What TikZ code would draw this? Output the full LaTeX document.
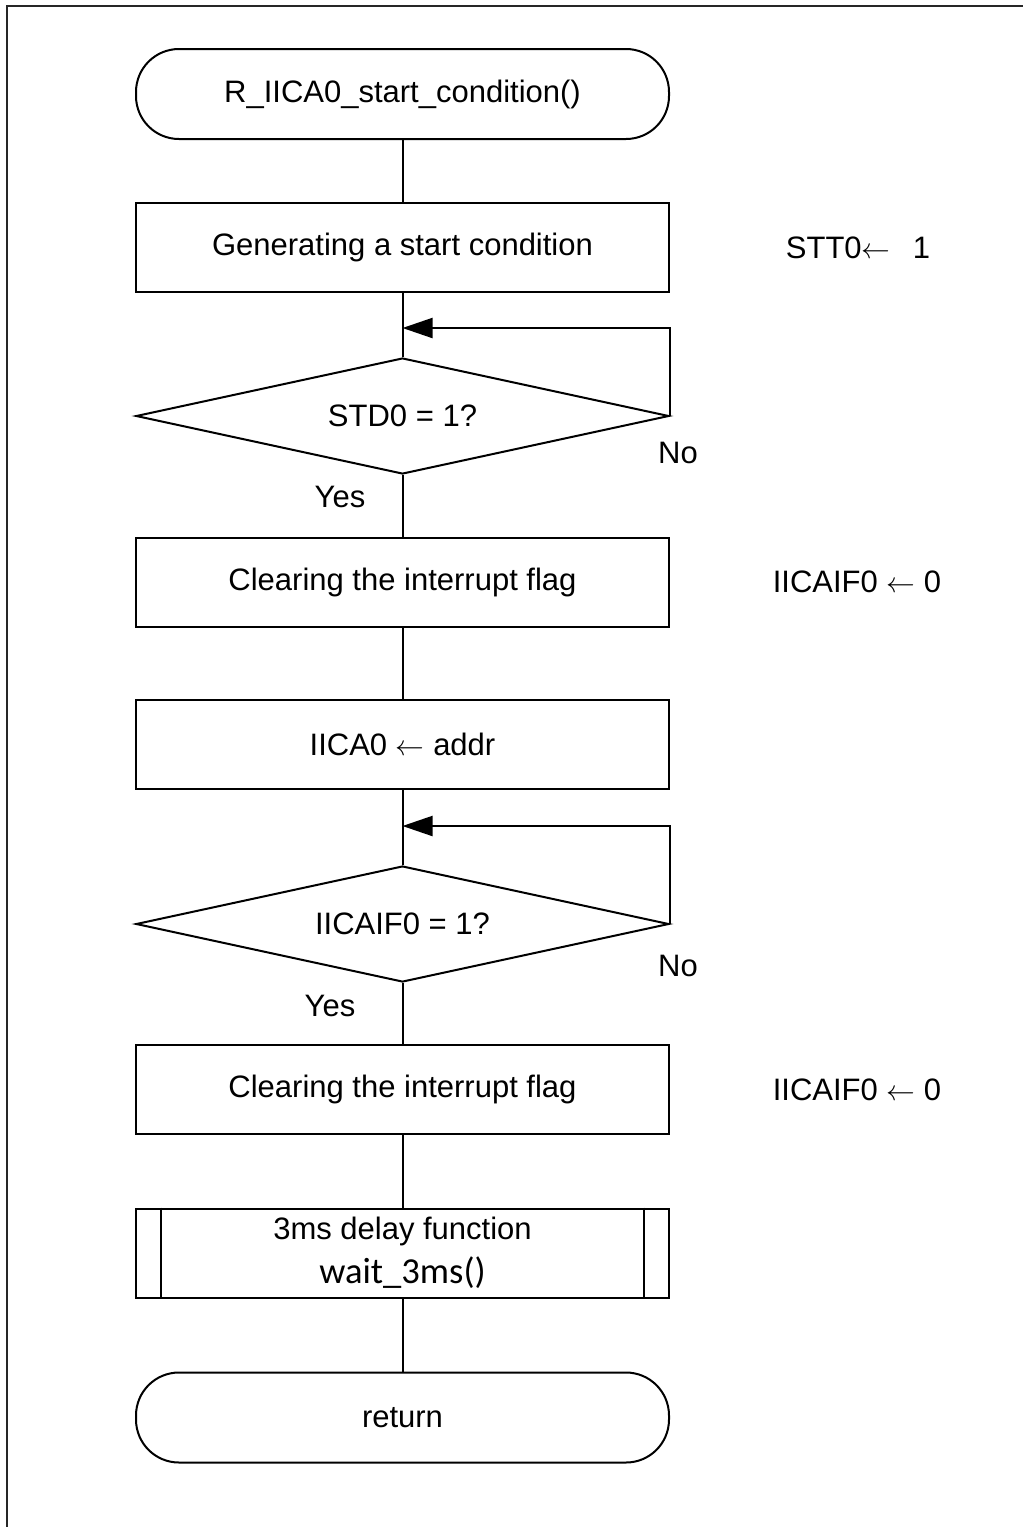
\documentclass[tikz,border=0pt]{standalone}
\usepackage{fontspec}
\setmainfont{Liberation Sans}
\newfontfamily\carlito{Carlito}
\usetikzlibrary{shapes.geometric,arrows.meta}
\newcommand{\larr}{\ensuremath{\leftarrow}}
\begin{document}
\begin{tikzpicture}[x=0.5pt,y=-0.5pt,
  every node/.style={font=\fontsize{15.5}{18}\selectfont, inner sep=0pt},
  procbox/.style={draw, line width=1pt, minimum width=266.5pt, minimum height=44.5pt},
  termbox/.style={draw, line width=1pt, rounded corners=21.5pt, minimum width=266.5pt, minimum height=45pt},
  decbox/.style={draw, diamond, aspect=4.6, line width=1pt, minimum width=266.5pt, minimum height=58pt, inner sep=0pt},
  flow/.style={line width=1pt},
  loopflow/.style={line width=1pt, -{Triangle[length=15pt,width=10pt]}},
  note/.style={anchor=center}
]
\useasboundingbox (0,0) rectangle (1023,1527);
% frame
\draw[line width=1pt, black!85] (7,1527) -- (7,6) -- (1023,6);

\node[termbox] (start) at (402.5,94) {R\_IICA0\_start\_condition()};
\node[procbox] (b1) at (402.5,247.5) {Generating a start condition};
\node[decbox] (d1) at (402.5,416) {STD0 = 1?};
\node[procbox] (b2) at (402.5,582) {Clearing the interrupt flag};
\node[procbox] (b3) at (402.5,744.5) {IICA0 \larr\ addr};
\node[decbox] (d2) at (402.5,924) {IICAIF0 = 1?};
\node[procbox] (b4) at (402.5,1089.5) {Clearing the interrupt flag};
\node[procbox, align=center] (p) at (402.5,1253)
  {\fontsize{15.5}{23.5}\selectfont 3ms delay function\\[4pt]{\carlito\fontsize{18.3}{23.5}\selectfont wait\_3ms()}};
\node[termbox] (ret) at (402.5,1417.5) {return};

\draw[line width=1pt] ([xshift=13pt]p.north west) -- ([xshift=13pt]p.south west);
\draw[line width=1pt] ([xshift=-13pt]p.north east) -- ([xshift=-13pt]p.south east);

% side notes
\node[note] (n1) at (858,247.5) {STT0\larr\ \ \,1};
\node[note] (n2) at (857,582) {IICAIF0 \larr\ 0};
\node[note] (n4) at (857,1089.5) {IICAIF0 \larr\ 0};

% yes / no labels
\node (no1) at (678,453) {No};
\node (yes1) at (340,497) {Yes};
\node (no2) at (678,966) {No};
\node (yes2) at (330,1006) {Yes};

% connectors
\coordinate (j1) at (402.5,328);
\coordinate (j2) at (402.5,826);
\draw[flow] (start) -- (b1);
\draw[flow] (b1) -- (d1);
\draw[loopflow] (d1.east) |- (j1);
\draw[flow] (d1) -- (b2);
\draw[flow] (b2) -- (b3);
\draw[flow] (b3) -- (d2);
\draw[loopflow] (d2.east) |- (j2);
\draw[flow] (d2) -- (b4);
\draw[flow] (b4) -- (p);
\draw[flow] (p) -- (ret);
\end{tikzpicture}
\end{document}
